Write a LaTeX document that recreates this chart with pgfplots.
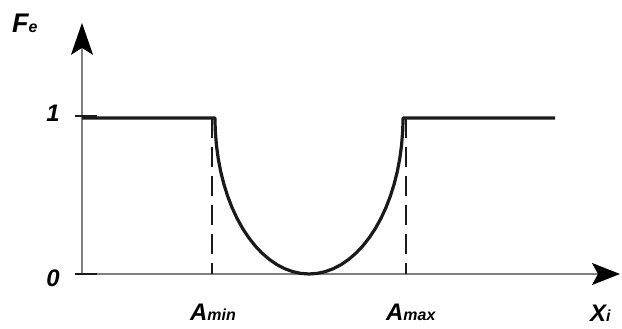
\documentclass[border=0pt]{standalone}
\usepackage{fontspec}
\setmainfont{Liberation Sans}
\usepackage{pgfplots}
\pgfplotsset{compat=1.18}
\usetikzlibrary{arrows.meta}

\definecolor{axisgray}{HTML}{808080}
\definecolor{ink}{HTML}{1A1A1A}

% bold italic labels with a small subscript set on the baseline
\newcommand{\lab}[1]{\fontsize{24}{26}\selectfont\bfseries\itshape #1}
\newcommand{\sub}[1]{{\fontsize{16}{17}\selectfont\bfseries\itshape #1}}

\begin{document}
\begin{tikzpicture}
\begin{axis}[
  name=ax,
  scale only axis,
  width=622bp, height=329bp,
  xmin=-82, xmax=540,
  ymin=-0.3526, ymax=1.7564,
  hide axis,
  clip=false,
]
  % coordinate axes
  \draw[axisgray, line width=1.4bp, -{Stealth[length=32bp, width=22bp, inset=7bp, color=black]}]
    (axis cs:0,0) -- (axis cs:0,1.61);
  \draw[axisgray, line width=1.4bp, -{Stealth[length=28bp, width=22bp, inset=6bp, color=black]}]
    (axis cs:-7,0) -- (axis cs:538,0);
  % tick stubs at 0 and 1
  \draw[ink, line width=2bp] (axis cs:-7,0) -- (axis cs:15,0);
  \draw[ink, line width=2bp] (axis cs:-7,1.01) -- (axis cs:15,1.01);

  % limits A_min and A_max
  \addplot[ink, line width=1.3bp, dash pattern=on 20bp off 9bp] coordinates {(130,1) (130,0)};
  \addplot[ink, line width=1.3bp, dash pattern=on 20bp off 9bp] coordinates {(324,1) (324,0)};

  % membership function F_e(X_i): flat at 1, elliptic dip between the limits
  \addplot[ink, line width=3.2bp, line join=round] coordinates {
    (0,1) (133,1)
    (133.06,0.9651) (133.36,0.9128) (134.43,0.8264) (136.20,0.7412)
    (138.67,0.6580) (141.81,0.5774) (145.60,0.5000) (150.00,0.4264)
    (155.00,0.3572) (160.53,0.2929) (166.58,0.2340) (173.08,0.1808)
    (180.00,0.1340) (187.28,0.0937) (194.85,0.0603) (202.67,0.0341)
    (210.68,0.0152) (218.80,0.0038) (227.00,0)
    (235.20,0.0038) (243.32,0.0152) (251.33,0.0341) (259.15,0.0603)
    (266.72,0.0937) (274.00,0.1340) (280.92,0.1808) (287.42,0.2340)
    (293.47,0.2929) (299.00,0.3572) (304.00,0.4264) (308.40,0.5000)
    (312.19,0.5774) (315.33,0.6580) (317.80,0.7412) (319.57,0.8264)
    (320.64,0.9128) (320.94,0.9651) (321,1)
    (473,1)
  };

  % labels
  \node[anchor=center] at (axis cs:-29,1.032) {\lab{1}};
  \node[anchor=center] at (axis cs:-29,-0.026) {\lab{0}};
  \node[anchor=base west, inner sep=0pt] at (axis cs:108,-0.295) {\lab{A}\sub{min}};
  \node[anchor=base west, inner sep=0pt] at (axis cs:304,-0.295) {\lab{A}\sub{max}};
  \node[anchor=base west, inner sep=0pt] at (axis cs:508,-0.305) {\lab{X}\sub{i}};
  \node[anchor=base west, inner sep=0pt] at (axis cs:-70,1.551) {{\fontsize{27}{29}\selectfont\bfseries\itshape F}\sub{e}};
\end{axis}
\pgfresetboundingbox
\path[use as bounding box] (ax.south west) rectangle (ax.north east);
\end{tikzpicture}
\end{document}
